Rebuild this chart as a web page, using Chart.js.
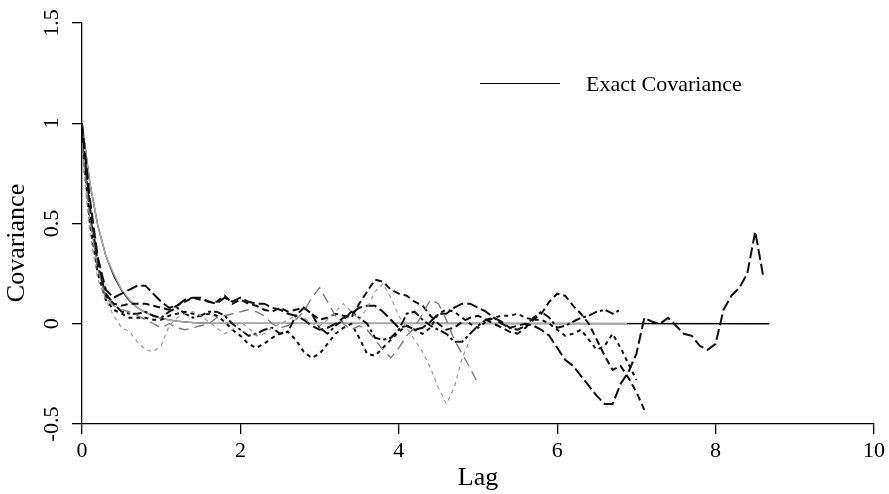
<!DOCTYPE html>
<html>
<head>
<meta charset="utf-8">
<script src="https://cdn.jsdelivr.net/npm/chart.js@4.4.1/dist/chart.umd.min.js"></script>
<style>
  body { margin: 0; background: #fff; }
  #wrap { position: relative; width: 889px; height: 494px; }
  #key { position: absolute; left: 480px; top: 73px; height: 22px; font: 22px 'Liberation Serif', serif; color: #000; }
  #key .swatch { position: absolute; left: 0; top: 10px; width: 80px; border-top: 1.3px solid #000; }
  #key .label { position: absolute; left: 106px; top: 0; line-height: 22px; white-space: nowrap; }
</style>
</head>
<body>
<div id="wrap">
  <canvas id="covChart"></canvas>
  <div id="key"><span class="swatch"></span><span class="label">Exact Covariance</span></div>
</div>
<script>
// lag grid shared by the sample covariance curves
const lags = [
  0.0, 0.1, 0.2, 0.3, 0.4, 0.5, 0.6, 0.7, 0.8, 0.9,
  1.0, 1.1, 1.2, 1.3, 1.4, 1.5, 1.6, 1.7, 1.8, 1.9,
  2.0, 2.1, 2.2, 2.3, 2.4, 2.5, 2.6, 2.7, 2.8, 2.9,
  3.0, 3.1, 3.2, 3.3, 3.4, 3.5, 3.6, 3.7, 3.8, 3.9,
  4.0, 4.1, 4.2, 4.3, 4.4, 4.5, 4.6, 4.7, 4.8, 4.9,
  5.0, 5.1, 5.2, 5.3, 5.4, 5.5, 5.6, 5.7, 5.8, 5.9,
  6.0, 6.1, 6.2, 6.3, 6.4, 6.5, 6.6, 6.7, 6.8, 6.9,
  7.0, 7.1, 7.2, 7.3, 7.4, 7.5, 7.6, 7.7, 7.8, 7.9,
  8.0, 8.1, 8.2, 8.3, 8.4, 8.5, 8.6
];

// sample covariances, one run each
const run1 = [
  1.00, 0.62, 0.33, 0.17, 0.13, 0.15, 0.17, 0.19, 0.19, 0.15,
  0.11, 0.08, 0.09, 0.12, 0.13, 0.13, 0.11, 0.10, 0.13, 0.11,
  0.13, 0.11, 0.10, 0.10, 0.08, 0.07, 0.05, 0.04, 0.02, -0.01,
  -0.03, -0.02, 0.00, 0.03, 0.05, 0.08, 0.09, 0.09, 0.06, 0.02,
  -0.02, -0.01, -0.03, -0.02, 0.01, 0.05, 0.05, 0.08, 0.10, 0.10,
  0.08, 0.06, 0.03, 0.01, -0.02, -0.01, 0.00, -0.01, -0.03, -0.06,
  -0.12, -0.18, -0.21, -0.26, -0.31, -0.36, -0.40, -0.40, -0.30, -0.24,
  -0.15, 0.03, 0.01, 0.00, 0.03, -0.01, -0.05, -0.06, -0.11, -0.13,
  -0.10, 0.07, 0.14, 0.18, 0.25, 0.46, 0.24
];
const run2 = [
  0.97, 0.58, 0.30, 0.14, 0.10, 0.09, 0.10, 0.10, 0.10, 0.09,
  0.08, 0.07, 0.09, 0.11, 0.13, 0.12, 0.11, 0.11, 0.14, 0.10,
  0.12, 0.10, 0.09, 0.07, 0.06, 0.08, 0.06, 0.07, 0.08, 0.05,
  0.02, 0.03, 0.05, 0.04, 0.03, 0.10, 0.16, 0.22, 0.21, 0.17,
  0.15, 0.14, 0.11, 0.09, 0.04, 0.00, -0.03, -0.02, 0.01, 0.03,
  0.04, 0.02, 0.00, -0.02, -0.04, -0.05, -0.02, 0.02, 0.05, 0.11,
  0.15, 0.14, 0.09, 0.05, 0.00, -0.08, -0.16, -0.23, -0.21, -0.27,
  -0.34, -0.43
];
const run3 = [
  0.92, 0.50, 0.25, 0.12, 0.07, 0.05, 0.03, 0.03, 0.03, 0.02,
  0.02, 0.04, 0.05, 0.06, 0.05, 0.04, 0.05, 0.04, 0.01, -0.03,
  -0.06, -0.10, -0.12, -0.10, -0.07, -0.05, -0.04, -0.08, -0.14, -0.17,
  -0.15, -0.10, -0.05, -0.02, 0.00, -0.07, -0.15, -0.16, -0.12, -0.08,
  -0.04, -0.01, -0.03, -0.05, -0.02, 0.05, 0.07, 0.06, 0.03, 0.00,
  -0.02, 0.01, 0.03, 0.04, 0.04, 0.05, 0.03, 0.02, 0.02, 0.00,
  -0.03, -0.06, -0.05, -0.03, -0.08, -0.13, -0.11, -0.05, -0.12, -0.20,
  -0.28
];
const run4 = [
  0.95, 0.55, 0.28, 0.15, 0.10, 0.06, 0.05, 0.05, 0.06, 0.04,
  0.03, 0.06, 0.08, 0.05, 0.03, 0.04, 0.06, 0.06, 0.04, 0.00,
  -0.03, -0.06, -0.05, -0.03, -0.02, -0.05, -0.04, 0.04, 0.08, 0.05,
  -0.02, -0.05, -0.01, 0.02, 0.06, 0.03, 0.00, -0.07, -0.08, -0.07,
  -0.03, 0.05, 0.06, 0.02, -0.01, -0.03, -0.05, -0.09, -0.09, -0.05,
  -0.01, 0.02, 0.03, 0.00, -0.02, -0.03, -0.01, 0.03, 0.06, 0.03,
  -0.02, -0.01, 0.01, 0.03, 0.04, 0.06, 0.07, 0.05, 0.07
];
const run5 = [
  0.90, 0.52, 0.27, 0.13, 0.09, 0.07, 0.06, 0.04, 0.02, 0.00,
  -0.02, 0.00, -0.02, -0.03, -0.02, -0.01, 0.00, 0.03, 0.04, 0.05,
  0.06, 0.07, 0.06, 0.04, 0.00, -0.02, -0.01, 0.02, 0.06, 0.13,
  0.18, 0.11, 0.04, 0.00, -0.03, -0.01, -0.03, -0.08, -0.13, -0.17,
  -0.12, -0.06, -0.02, 0.05, 0.12, 0.10, 0.02, -0.08, -0.15, -0.22,
  -0.30
];
const run6 = [
  0.85, 0.45, 0.22, 0.12, 0.04, -0.02, -0.04, -0.09, -0.13, -0.14,
  -0.11, -0.01, 0.03, 0.05, 0.06, 0.04, 0.01, -0.02, -0.05, -0.03,
  0.01, -0.02, -0.06, -0.05, -0.02, 0.00, 0.02, 0.04, 0.03, 0.00,
  -0.01, 0.02, 0.06, 0.10, 0.06, 0.02, 0.08, 0.16, 0.20, 0.13,
  0.04, -0.02, -0.08, -0.14, -0.22, -0.32, -0.40, -0.32, -0.17, -0.08
];

// exact covariance and the averaged estimate
const exactLags = [0, 0.1, 0.2, 0.3, 0.4, 0.5, 0.6, 0.7, 0.8, 0.9, 1.0, 1.1, 1.2, 1.3, 1.4, 1.5, 1.6, 8.68];
const exactCov = [1, 0.70, 0.49, 0.34, 0.24, 0.165, 0.115, 0.08, 0.056, 0.039, 0.027, 0.019, 0.013, 0.009, 0.006, 0.004, 0.003, 0];
const meanLags = [0, 0.1, 0.2, 0.3, 0.4, 0.5, 0.6, 0.7, 0.8, 0.9, 1.0, 1.1, 1.2, 1.3, 1.4, 1.5, 1.6, 6.88];
const meanCov = [1, 0.70, 0.49, 0.34, 0.25, 0.17, 0.12, 0.08, 0.056, 0.039, 0.027, 0.019, 0.013, 0.009, 0.006, 0.004, 0.003, 0];

const xTicks = [0, 2, 4, 6, 8, 10];
const yTicks = [-0.5, 0, 0.5, 1, 1.5];

function pts(xs, ys) {
  return ys.map((v, i) => ({ x: xs[i], y: v }));
}

function line(label, xs, ys, color, width, dash, order) {
  return {
    label: label,
    data: pts(xs, ys),
    borderColor: color,
    borderWidth: width,
    borderDash: dash,
    borderCapStyle: 'butt',
    pointRadius: 0,
    tension: 0,
    fill: false,
    order: order
  };
}

Chart.defaults.font.family = "'Liberation Serif', 'Times New Roman', serif";
Chart.defaults.color = '#000';

const ctx = document.getElementById('covChart').getContext('2d');
new Chart(ctx, {
  type: 'line',
  data: {
    datasets: [
      line('run 6', lags, run6, '#9a9a9a', 1.2, [4, 4], 2),
      line('run 5', lags, run5, '#7c7c7c', 1.4, [10, 6], 3),
      line('run 4', lags, run4, '#111', 2, [9, 3, 3, 3], 4),
      line('run 3', lags, run3, '#111', 2, [4, 4], 5),
      line('run 2', lags, run2, '#111', 2, [7, 4], 6),
      line('run 1', lags, run1, '#111', 2, [11, 4], 7),
      line('Mean', meanLags, meanCov, '#a8a8a8', 1.5, [], 8),
      line('Exact Covariance', exactLags, exactCov, '#000', 1.3, [], 9)
    ]
  },
  options: {
    responsive: true,
    maintainAspectRatio: false,
    animation: false,
    layout: { padding: { top: 23, right: 12, left: 0, bottom: 0 } },
    plugins: {
      legend: { display: false },
      tooltip: { enabled: false }
    },
    scales: {
      x: {
        type: 'linear',
        min: 0,
        max: 10,
        afterBuildTicks: s => { s.ticks = xTicks.map(v => ({ value: v })); },
        afterFit: s => { s.height = 70; },
        ticks: { font: { size: 22 }, padding: 4, maxRotation: 0, autoSkip: false, callback: v => String(v) },
        grid: { drawOnChartArea: false, tickLength: 10, color: '#000', lineWidth: 1.3 },
        border: { color: '#000', width: 1.3 },
        title: { display: true, text: 'Lag', font: { size: 26 }, padding: 0 }
      },
      y: {
        min: -0.5,
        max: 1.5,
        afterBuildTicks: s => { s.ticks = yTicks.map(v => ({ value: v })); },
        afterFit: s => { s.width = 82; },
        ticks: { font: { size: 22 }, padding: 2, minRotation: 90, maxRotation: 90, crossAlign: 'center', autoSkip: false, callback: v => String(v) },
        grid: { drawOnChartArea: false, tickLength: 10, color: '#000', lineWidth: 1.3 },
        border: { color: '#000', width: 1.3 },
        title: { display: true, text: 'Covariance      ', font: { size: 26 }, padding: { top: 2, bottom: 0 } }
      }
    }
  }
});
</script>
</body>
</html>
